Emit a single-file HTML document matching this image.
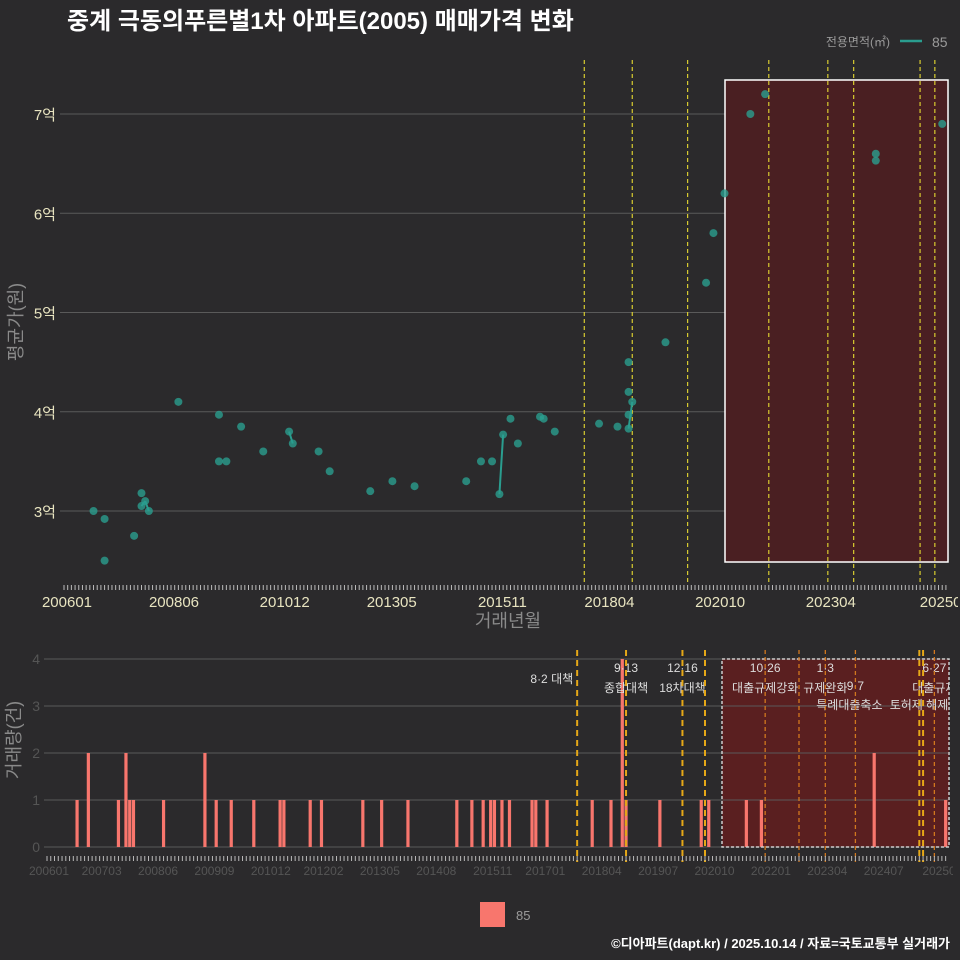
<!DOCTYPE html>
<html><head><meta charset="utf-8">
<style>
html,body{margin:0;padding:0;background:#2b2a2c;}
svg{display:block;font-family:"Liberation Sans","Noto Sans CJK KR",sans-serif;}
</style></head>
<body>
<svg id="chart" width="960" height="960" viewBox="0 0 960 960">
<defs>
<clipPath id="clipTop"><rect x="0" y="590" width="958" height="30"/></clipPath>
<clipPath id="clipBot"><rect x="0" y="860" width="953" height="30"/></clipPath>
<clipPath id="clipAnn"><rect x="0" y="640" width="949" height="90"/></clipPath>
</defs>
<rect x="0" y="0" width="960" height="960" fill="#2b2a2c"/>
<text x="67" y="29" fill="#ffffff" font-size="24" font-weight="bold">중계 극동의푸른별1차 아파트(2005) 매매가격 변화</text>
<g>
<text x="890" y="46" fill="#9a9a9a" font-size="12" text-anchor="end">전용면적(㎡)</text>
<line x1="900" y1="41" x2="922" y2="41" stroke="#2a9d8f" stroke-width="2.5"/>
<text x="932" y="47" fill="#9a9a9a" font-size="14">85</text>
</g>
<g id="topPanel"></g>
<g id="botPanel"></g>
<g>
<rect x="480" y="902" width="25" height="25" fill="#f8766d"/>
<text x="516" y="920" fill="#9a9a9a" font-size="13">85</text>
</g>
<text x="950" y="948" fill="#ffffff" font-size="13" font-weight="bold" text-anchor="end">©디아파트(dapt.kr) / 2025.10.14 / 자료=국토교통부 실거래가</text>
</svg>
<script>
// ---- data ----
const priceMonths = ["200609","200612","200612","200708","200710","200710","200711","200712","200808","200907","200907","200909","201001","201007","201102","201103","201110","201201","201212","201306","201312","201502","201506","201509","201511","201512","201602","201604","201610","201611","201702","201802","201807","201810","201810","201810","201810","201811","201908","202007","202009","202012","202107","202111","202405","202405","202511"];
const priceValues = [3.0,2.92,2.5,2.75,3.18,3.05,3.1,3.0,4.1,3.97,3.5,3.5,3.85,3.6,3.8,3.68,3.6,3.4,3.2,3.3,3.25,3.3,3.5,3.5,3.17,3.77,3.93,3.68,3.95,3.93,3.8,3.88,3.85,4.5,4.2,3.97,3.83,4.1,4.7,5.3,5.8,6.2,7.0,7.2,6.6,6.53,6.9];
const priceTicks = [3,4,5,6,7];
const priceTickLabels = ["3억","4억","5억","6억","7억"];
const volMonths = ["200609","200612","200708","200710","200711","200712","200808","200907","200910","201002","201008","201103","201104","201111","201202","201301","201306","201401","201502","201506","201509","201511","201512","201602","201604","201610","201611","201702","201802","201807","201810","201811","201908","202007","202009","202107","202111","202405","202512"];
const volValues = [1,2,1,2,1,1,1,2,1,1,1,1,1,1,1,1,1,1,1,1,1,1,1,1,1,1,1,1,1,1,4,1,1,1,1,1,1,2,1];
const volTicks = [0,1,2,3,4];
const topXLabels = ["200601","200806","201012","201305","201511","201804","202010","202304","202509"];
const botXLabels = ["200601","200703","200806","200909","201012","201202","201305","201408","201511","201701","201804","201907","202010","202201","202304","202407","202509"];
const policyTop = ["201710","201811","202002","202112","202304","202311","202505","202509"];
const policyBot = ["201710","201811","202002","202008","202112","202209","202304","202312","202505","202506","202509"];
const policyBotNames = [["8·2 대책",""],["9·13","종합대책"],["12·16","18차대책"],["",""],["10·26","대출규제강화"],["",""],["1·3","규제완화"],["9·7","특례대출축소"],["",""],["","토허제 해제"],["6·27","대출규제"]];

// ---- helpers ----
const NS="http://www.w3.org/2000/svg";
function mk(tag,attrs,parent,txt){const e=document.createElementNS(NS,tag);for(const k in attrs)e.setAttribute(k,attrs[k]);if(txt!==undefined)e.textContent=txt;parent.appendChild(e);return e;}
function mi(s){return (parseInt(s.slice(0,4))-2006)*12+(parseInt(s.slice(4,6))-1);}
const xT=m=>64+m*3.69, yT=v=>511-(v-3)*99.25;
const xB=m=>47+m*3.76, yB=v=>847-v*47;
const topG=document.getElementById('topPanel'), botG=document.getElementById('botPanel');

// ---- top panel ----
priceTicks.forEach((t,i)=>{
  const g=mk('line',{x1:60,x2:948,y1:yT(t),y2:yT(t),stroke:'#5a5a5a','stroke-width':1},topG);
  
  
  const tx=mk('text',{x:56,y:yT(t)+6,fill:'#e8e4c0','font-size':15,'text-anchor':'end'},topG,priceTickLabels[i]);
  
  
});
const hr=mk('rect',{x:725,y:80,width:223,height:482,fill:'#4a1f22',stroke:'#ffffff','stroke-width':1.5},topG);


policyTop.forEach(p=>{
  const l=mk('line',{x1:xT(mi(p)),x2:xT(mi(p)),y1:60,y2:585,stroke:'#d8cc30','stroke-width':1.2,'stroke-dasharray':'4,3'},topG);
  
  
});
for(let i=1;i<priceMonths.length;i++){
  const a=mi(priceMonths[i-1]),b=mi(priceMonths[i]);
  if(b-a===1){
    const l=mk('line',{x1:xT(a),y1:yT(priceValues[i-1]),x2:xT(b),y2:yT(priceValues[i]),stroke:'#2a9d8f','stroke-width':2},topG);
    
    
  }
}
priceMonths.forEach((m,i)=>{
  const c=mk('circle',{cx:xT(mi(m)),cy:yT(priceValues[i]),r:4,fill:'#2a9d8f','fill-opacity':0.8},topG);
  
  
});
for(let m=0;m<=240;m++){
  const x=xT(m); if(x>948)break;
  const l=mk('line',{x1:x,x2:x,y1:585,y2:590,stroke:'#bbbbbb','stroke-width':1},topG);
  
  
}
const topLab=mk('g',{'clip-path':'url(#clipTop)'},topG);


topXLabels.forEach((s,i)=>{
  const last=i===topXLabels.length-1;
  const t=mk('text',{x:xT(mi(s))+(last?10:3),y:607,fill:'#e8e4c0','font-size':15,'text-anchor':'middle'},topLab,s);
  
  
});
const xt=mk('text',{x:508,y:627,fill:'#8a8a8a','font-size':18,'text-anchor':'middle'},topG,'거래년월');


const yt=mk('text',{x:0,y:0,fill:'#8a8a8a','font-size':18,'text-anchor':'middle',transform:'translate(22,322) rotate(-90)'},topG,'평균가(원)');



// ---- bottom panel ----
const br=mk('rect',{x:722,y:659,width:227,height:188,fill:'#5a1f20'},botG);


volTicks.forEach(t=>{
  const g=mk('line',{x1:44,x2:948,y1:yB(t),y2:yB(t),stroke:'#5a5a5a','stroke-width':1},botG);
  
  
  const tx=mk('text',{x:40,y:yB(t)+5,fill:'#555','font-size':14,'text-anchor':'end'},botG,String(t));
  
  
});
volMonths.forEach((m,i)=>{
  const r=mk('rect',{x:xB(mi(m))-1.6,y:yB(volValues[i]),width:3.2,height:volValues[i]*47,fill:'#f8766d'},botG);
  
  
});
const bb=mk('rect',{x:722,y:659,width:227,height:188,fill:'none',stroke:'#cccccc','stroke-width':1.5,'stroke-dasharray':'3,2'},botG);


const ann=mk('g',{'clip-path':'url(#clipAnn)'},botG);


policyBot.forEach((p,i)=>{
  const x=xB(mi(p));
  const gold=[0,1,2,3,8,9].includes(i);
  const l=mk('line',{x1:x,x2:x,y1:650,y2:862,stroke:gold?'#e6a817':'#d2781e','stroke-width':gold?2:1.3,'stroke-dasharray':gold?'6,4':'4,3'},botG);
  
  
  const n=policyBotNames[i];
  if(i===0){
    const t=mk('text',{x:x-4,y:683,fill:'#dddddd','font-size':12,'text-anchor':'end'},ann,n[0]);
    
    
    return;
  }
  if(i===7){
    const a=mk('text',{x:x,y:690,fill:'#dddddd','font-size':12,'text-anchor':'middle'},ann,n[0]);
    
    
    const b=mk('text',{x:x-6,y:709,fill:'#dddddd','font-size':12,'text-anchor':'middle'},ann,n[1]);
    
    
    return;
  }
  if(i===9){
    const b=mk('text',{x:919,y:709,fill:'#dddddd','font-size':12,'text-anchor':'middle'},ann,n[1]);
    
    
    return;
  }
  if(n[0]){
    const a=mk('text',{x:x,y:672,fill:'#dddddd','font-size':12,'text-anchor':'middle'},ann,n[0]);
    
    
  }
  if(n[1]){
    const b=mk('text',{x:x,y:692,fill:'#dddddd','font-size':12,'text-anchor':'middle'},ann,n[1]);
    
    
  }
});
for(let m=0;m<=240;m++){
  const x=xB(m); if(x>948)break;
  const l=mk('line',{x1:x,x2:x,y1:856,y2:861,stroke:'#bbbbbb','stroke-width':1},botG);
  
  
}
const botLab=mk('g',{'clip-path':'url(#clipBot)'},botG);


botXLabels.forEach((s,i)=>{
  const last=i===botXLabels.length-1;
  const t=mk('text',{x:xB(mi(s))+(last?8:2),y:875,fill:'#555','font-size':12,'text-anchor':'middle'},botLab,s);
  
  
});
const yt2=mk('text',{x:0,y:0,fill:'#8a8a8a','font-size':18,'text-anchor':'middle',transform:'translate(20,740) rotate(-90)'},botG,'거래량(건)');


</script>
</body></html>
